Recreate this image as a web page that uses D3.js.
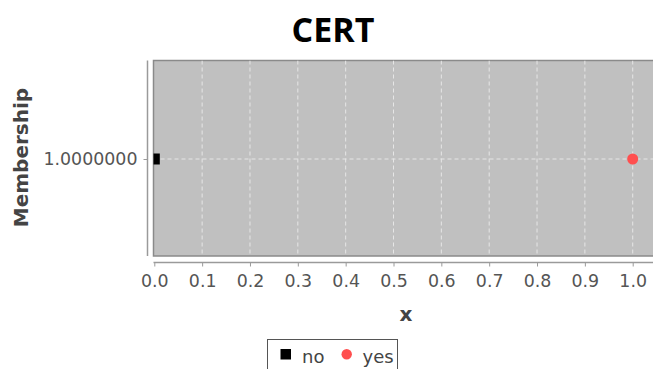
<!DOCTYPE html>
<html>
<head>
<meta charset="utf-8">
<script src="https://cdn.jsdelivr.net/npm/d3@7"></script>
<style>
  body { margin: 0; background: #fff; overflow: hidden; }
  svg { display: block; }
</style>
</head>
<body>
<div id="chart"></div>
<script>
// chart values
const title = "CERT";
const seriesNames = ["no", "yes"];
const seriesColors = ["#000000", "#ff4f4f"];
const noPoints = [{ x: 0.0, y: 1.0 }];
const yesPoints = [{ x: 1.0, y: 1.0 }];
const xTicks = [0.0, 0.1, 0.2, 0.3, 0.4, 0.5, 0.6, 0.7, 0.8, 0.9, 1.0];
const yTicks = [1.0];

const width = 653, height = 369;
const plot = { left: 153.5, top: 60.5, right: 660, bottom: 256 };

const svg = d3.select("#chart")
    .append("svg")
    .attr("width", width)
    .attr("height", height);

// scales: x = 0 sits on the plot's left edge, plot runs off the right side
const xScale = d3.scaleLinear()
    .domain([0, 1])
    .range([154.3, 632.7]);

const yScale = d3.scaleLinear()
    .domain([1 - 6e-8, 1 + 6e-8])
    .range([plot.bottom + 1.5, plot.top]);

// clip for plot contents
svg.append("clipPath")
    .attr("id", "plotClip")
    .append("rect")
    .attr("x", plot.left)
    .attr("y", plot.top)
    .attr("width", plot.right - plot.left)
    .attr("height", plot.bottom - plot.top);

// plot background
svg.append("rect")
    .attr("x", plot.left)
    .attr("y", plot.top)
    .attr("width", plot.right - plot.left)
    .attr("height", plot.bottom - plot.top)
    .attr("fill", "#c0c0c0")
    .attr("stroke", "#8a8a8a")
    .attr("stroke-width", 1.5);

const inner = svg.append("g").attr("clip-path", "url(#plotClip)");

// gridlines
inner.selectAll(".vgrid")
    .data(xTicks.slice(1))
    .join("line")
    .attr("x1", d => xScale(d))
    .attr("x2", d => xScale(d))
    .attr("y1", plot.top)
    .attr("y2", plot.bottom)
    .attr("stroke", "#e6e6e6")
    .attr("stroke-width", 1)
    .attr("stroke-dasharray", "4,3");

inner.selectAll(".hgrid")
    .data(yTicks)
    .join("line")
    .attr("x1", plot.left)
    .attr("x2", plot.right)
    .attr("y1", d => yScale(d))
    .attr("y2", d => yScale(d))
    .attr("stroke", "#e6e6e6")
    .attr("stroke-width", 1)
    .attr("stroke-dasharray", "4,3");

// points
inner.selectAll(".no")
    .data(noPoints)
    .join("rect")
    .attr("x", d => xScale(d.x) - 5.5)
    .attr("y", d => yScale(d.y) - 5.5)
    .attr("width", 11)
    .attr("height", 11)
    .attr("fill", seriesColors[0]);

inner.selectAll(".yes")
    .data(yesPoints)
    .join("circle")
    .attr("cx", d => xScale(d.x))
    .attr("cy", d => yScale(d.y))
    .attr("r", 5.5)
    .attr("fill", seriesColors[1]);

// y axis
const yAxis = svg.append("g")
    .attr("transform", "translate(147.5,0)")
    .call(d3.axisLeft(yScale).tickValues(yTicks).tickFormat(d3.format(".7f")).tickSize(4).tickPadding(6));
yAxis.select(".domain")
    .attr("d", `M0,${plot.top}V${plot.bottom}`)
    .attr("stroke", "#9a9a9a")
    .attr("stroke-width", 1.5);
yAxis.selectAll(".tick line").attr("stroke", "#9a9a9a");
yAxis.selectAll(".tick text")
    .attr("fill", "#555")
    .style("font-family", "DejaVu Sans, sans-serif")
    .style("font-size", "17.4px");

// x axis
const xAxis = svg.append("g")
    .attr("transform", "translate(0,262.5)")
    .call(d3.axisBottom(xScale).tickValues(xTicks).tickFormat(d3.format(".1f")).tickSize(4).tickPadding(8));
xAxis.select(".domain")
    .attr("d", `M${plot.left},0H${plot.right}`)
    .attr("stroke", "#9a9a9a")
    .attr("stroke-width", 1.5);
xAxis.selectAll(".tick line").attr("stroke", "#9a9a9a");
xAxis.selectAll(".tick text")
    .attr("fill", "#555")
    .style("font-family", "DejaVu Sans, sans-serif")
    .style("font-size", "17.4px");

// title
svg.append("text")
    .attr("x", 333)
    .attr("y", 41.5)
    .attr("text-anchor", "middle")
    .style("font-family", "Open Sans, sans-serif")
    .style("font-weight", "bold")
    .style("font-size", "34px")
    .attr("fill", "#000")
    .text(title);

// axis titles
svg.append("text")
    .attr("x", 406)
    .attr("y", 321)
    .attr("text-anchor", "middle")
    .style("font-family", "DejaVu Sans, sans-serif")
    .style("font-weight", "bold")
    .style("font-size", "20px")
    .attr("fill", "#444")
    .text("x");

svg.append("text")
    .attr("transform", "rotate(-90)")
    .attr("x", -157.5)
    .attr("y", 28)
    .attr("text-anchor", "middle")
    .style("font-family", "DejaVu Sans, sans-serif")
    .style("font-weight", "bold")
    .style("font-size", "20px")
    .attr("fill", "#444")
    .text("Membership");

// legend
const legend = svg.append("g");
legend.append("rect")
    .attr("x", 267.5)
    .attr("y", 339.5)
    .attr("width", 130)
    .attr("height", 40)
    .attr("fill", "#fff")
    .attr("stroke", "#555")
    .attr("stroke-width", 1);

legend.append("rect")
    .attr("x", 280.5)
    .attr("y", 349)
    .attr("width", 10.5)
    .attr("height", 10.5)
    .attr("fill", seriesColors[0]);
legend.append("text")
    .attr("x", 302)
    .attr("y", 363)
    .style("font-family", "DejaVu Sans, sans-serif")
    .style("font-size", "18px")
    .attr("fill", "#444")
    .text(seriesNames[0]);

legend.append("circle")
    .attr("cx", 346.7)
    .attr("cy", 354.3)
    .attr("r", 5.2)
    .attr("fill", seriesColors[1]);
legend.append("text")
    .attr("x", 362.5)
    .attr("y", 363)
    .style("font-family", "DejaVu Sans, sans-serif")
    .style("font-size", "18px")
    .attr("fill", "#444")
    .text(seriesNames[1]);
</script>
</body>
</html>
